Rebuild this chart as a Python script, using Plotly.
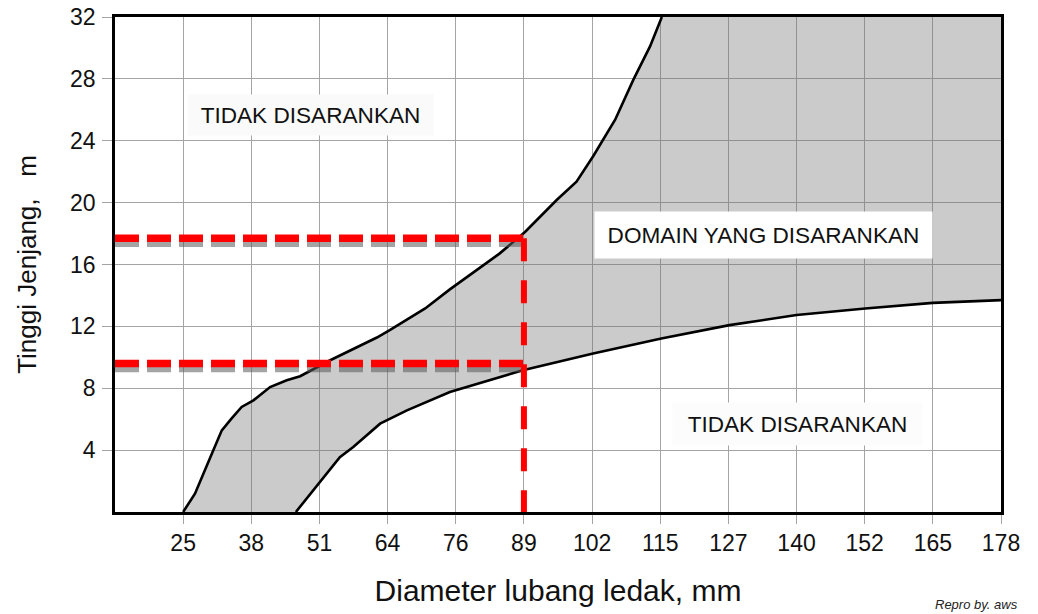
import plotly.graph_objects as go

# ---------------- data ----------------
# x axis: blast-hole diameter (mm) – tick positions are inch steps, labels rounded
tick_mm = [25.4, 38.1, 50.8, 63.5, 76.2, 88.9, 101.6, 114.3, 127.0, 139.7, 152.4, 165.1, 177.8]
tick_labels = ["25", "38", "51", "64", "76", "89", "102", "115", "127", "140", "152", "165", "178"]
y_ticks = [4, 8, 12, 16, 20, 24, 28, 32]

# upper / left boundary of the recommended domain
upper_x = [25.4, 27.6, 31.0, 32.6, 34.4, 36.3, 38.5, 41.6, 44.7, 47.2, 52.8, 61.5, 63.9,
           70.5, 75.1, 80.4, 84.4, 89.1, 95.0, 98.7, 101.8, 105.9, 109.3, 112.4, 114.6]
upper_y = [0.0, 1.18, 3.98, 5.28, 6.04, 6.79, 7.22, 8.08, 8.52, 8.78, 9.81, 11.28, 11.76,
           13.16, 14.39, 15.75, 16.72, 18.1, 20.17, 21.36, 23.0, 25.36, 27.95, 30.1, 32.0]

# lower / right boundary of the recommended domain
lower_x = [46.4, 50.9, 54.6, 57.1, 62.1, 67.1, 72.0, 75.1, 88.7, 101.8, 114.5, 127.2,
           139.7, 152.5, 165.1, 177.8]
lower_y = [0.0, 1.93, 3.55, 4.2, 5.71, 6.57, 7.33, 7.76, 9.16, 10.25, 11.22, 12.08,
           12.73, 13.16, 13.52, 13.7]

# example reading (red dashed guide lines)
guide_d = 88.9
guide_h_top = 17.7
guide_h_low = 9.6

X_MIN, X_MAX = 12.7, 177.8
Y_MIN, Y_MAX = 0, 32

FONT = "Liberation Sans, Arial, sans-serif"
GRID = "#a4a4a4"

fig = go.Figure()

# shaded domain
poly_x = upper_x + [X_MAX, X_MAX] + lower_x[::-1]
poly_y = upper_y + [Y_MAX, lower_y[-1]] + lower_y[::-1]
fig.add_trace(go.Scatter(x=poly_x, y=poly_y, fill="toself", mode="lines",
                         line=dict(width=0), fillcolor="rgba(115,115,115,0.37)",
                         hoverinfo="skip", showlegend=False))

# boundary curves
for xs, ys in ((upper_x, upper_y), (lower_x, lower_y)):
    fig.add_trace(go.Scatter(x=xs, y=ys, mode="lines",
                             line=dict(color="black", width=2.6),
                             showlegend=False))

# shadows of horizontal guides
SHADOW = 0.32
for h in (guide_h_top, guide_h_low):
    fig.add_trace(go.Scatter(x=[X_MIN, guide_d], y=[h - SHADOW, h - SHADOW], mode="lines",
                             line=dict(color="rgba(90,90,90,0.55)", width=7.5, dash="24px,8px"),
                             showlegend=False, hoverinfo="skip"))
# red guides
for h in (guide_h_top, guide_h_low):
    fig.add_trace(go.Scatter(x=[X_MIN, guide_d], y=[h, h], mode="lines",
                             line=dict(color="#ff0000", width=7.5, dash="24px,8px"),
                             showlegend=False))
fig.add_trace(go.Scatter(x=[guide_d, guide_d], y=[guide_h_top, 0], mode="lines",
                         line=dict(color="#ff0000", width=6, dash="23px,19px"),
                         showlegend=False))

# region labels
def label(text, x, y, w, h, bg):
    fig.add_annotation(x=x, y=y, xref="x", yref="y", text=text, showarrow=False,
                       width=w, height=h, bgcolor=bg, borderpad=0,
                       font=dict(family=FONT, size=22.6, color="#111111"))

label("TIDAK DISARANKAN", 49.1, 25.68, 245, 40, "#fafafa")
label("DOMAIN YANG DISARANKAN", 133.6, 17.9, 337, 46, "#ffffff")
label("TIDAK DISARANKAN", 139.9, 5.67, 249, 42, "#fcfcfc")

fig.add_annotation(x=0.923, y=-0.168, xref="paper", yref="paper", xanchor="left",
                   yanchor="top", text="<i>Repro by. aws</i>", showarrow=False,
                   font=dict(family=FONT, size=13, color="#222222"))

fig.update_layout(
    width=1038, height=614,
    margin=dict(l=115, r=37, t=17, b=102),
    paper_bgcolor="white", plot_bgcolor="white",
    font=dict(family=FONT, color="black"),
    showlegend=False,
    xaxis=dict(range=[X_MIN, X_MAX], tickvals=tick_mm, ticktext=tick_labels,
               automargin=False,
               showgrid=True, gridcolor=GRID, gridwidth=1.3, zeroline=False,
               ticks="outside", ticklen=9, tickcolor=GRID, tickwidth=1.3,
               showline=True, linecolor="black", linewidth=2.6, mirror=True,
               tickfont=dict(family=FONT, size=23, color="#111111"),
               title=dict(text="Diameter lubang ledak, mm", standoff=25,
                          font=dict(family=FONT, size=30, color="#111111"))),
    yaxis=dict(range=[Y_MIN, Y_MAX], tickvals=y_ticks,
               automargin=False,
               showgrid=True, gridcolor=GRID, gridwidth=1.3, zeroline=False,
               ticks="outside", ticklen=10, tickcolor=GRID, tickwidth=1.3,
               ticklabelstandoff=2,
               showline=True, linecolor="black", linewidth=2.6, mirror=True,
               tickfont=dict(family=FONT, size=23, color="#111111"),
               title=dict(text="Tinggi Jenjang,   m", standoff=26,
                          font=dict(family=FONT, size=26, color="#111111"))),
)

fig.write_html("out.html", config={"displayModeBar": False},
               post_script="document.body.style.margin='0';document.body.style.overflow='hidden';")
